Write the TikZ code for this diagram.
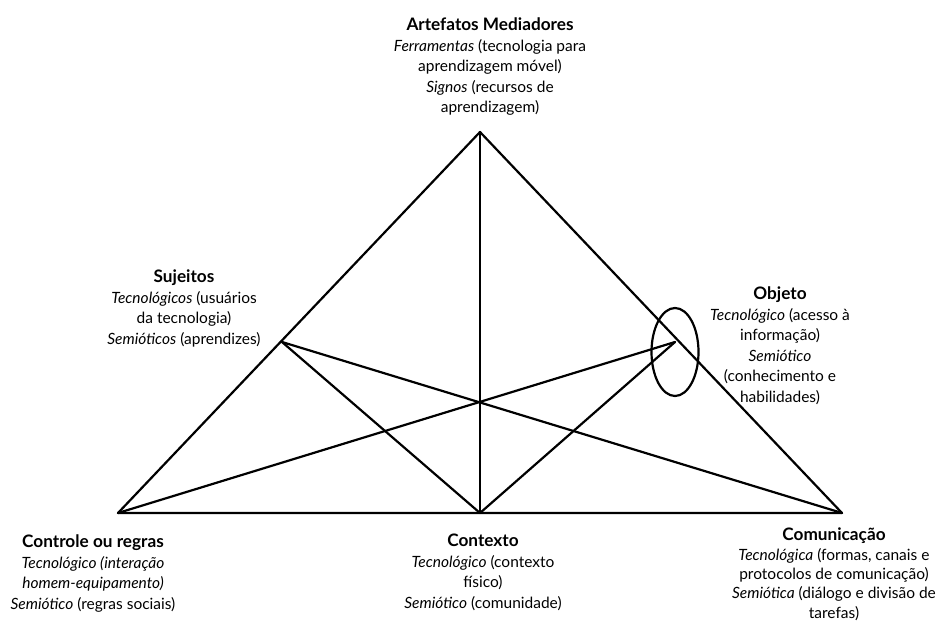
\documentclass[tikz,border=0pt]{standalone}
\usepackage{fontspec}
\setmainfont{Lato}
\usetikzlibrary{shapes.geometric}
\newcommand{\hd}[1]{{\fontsize{17.2}{20.5}\selectfont\bfseries #1}}
\tikzset{
  edge/.style={line width=2.2pt, line cap=round, line join=round, black},
  lbl/.style={align=center, font=\fontsize{15.5}{20.5}\selectfont, inner sep=0pt, anchor=north},
  oval/.style={draw, ellipse, line width=2.2pt, minimum width=47pt, minimum height=88pt, inner sep=0pt}
}
\begin{document}
\begin{tikzpicture}[x=1pt,y=-1pt]
\useasboundingbox (0,0) rectangle (936,623);
\coordinate (top) at (480,132);
\coordinate (bl) at (118,513);
\coordinate (bm) at (480,513);
\coordinate (br) at (842,513);
\coordinate (lm) at (282,342);
\coordinate (rm) at (675,342);
\draw[edge] (bl) -- (top) -- (br) -- cycle;
\draw[edge] (top) -- (bm);
\draw[edge] (lm) -- (bm);
\draw[edge] (lm) -- (br);
\draw[edge] (rm) -- (bl);
\draw[edge] (rm) -- (bm);
\node[oval] (ov) at (675,352) {};

\node[lbl] (art) at (490,18) {\hd{Artefatos Mediadores}\\\textit{Ferramentas} (tecnologia para\\aprendizagem móvel)\\\textit{Signos} (recursos de\\aprendizagem)};
\node[lbl] (suj) at (184,270) {\hd{Sujeitos}\\\textit{Tecnológicos} (usuários\\da tecnologia)\\\textit{Semióticos} (aprendizes)};
\node[lbl] (obj) at (780,287) {\hd{Objeto}\\\textit{Tecnológico} (acesso à\\informação)\\\textit{Semiótico}\\(conhecimento e\\habilidades)};
\node[lbl] (ctl) at (93,535) {\hd{Controle ou regras}\\\textit{Tecnológico (interação}\\\textit{homem-equipamento)}\\\textit{Semiótico} (regras sociais)};
\node[lbl] (ctx) at (483,534) {\hd{Contexto}\\\textit{Tecnológico} (contexto\\físico)\\\textit{Semiótico} (comunidade)};
\node[lbl, font=\fontsize{15.5}{19.3}\selectfont] (com) at (834,528) {\hd{Comunicação}\\\textit{Tecnológica} (formas, canais e\\protocolos de comunicação)\\\textit{Semiótica} (diálogo e divisão de\\tarefas)};
\end{tikzpicture}
\end{document}
